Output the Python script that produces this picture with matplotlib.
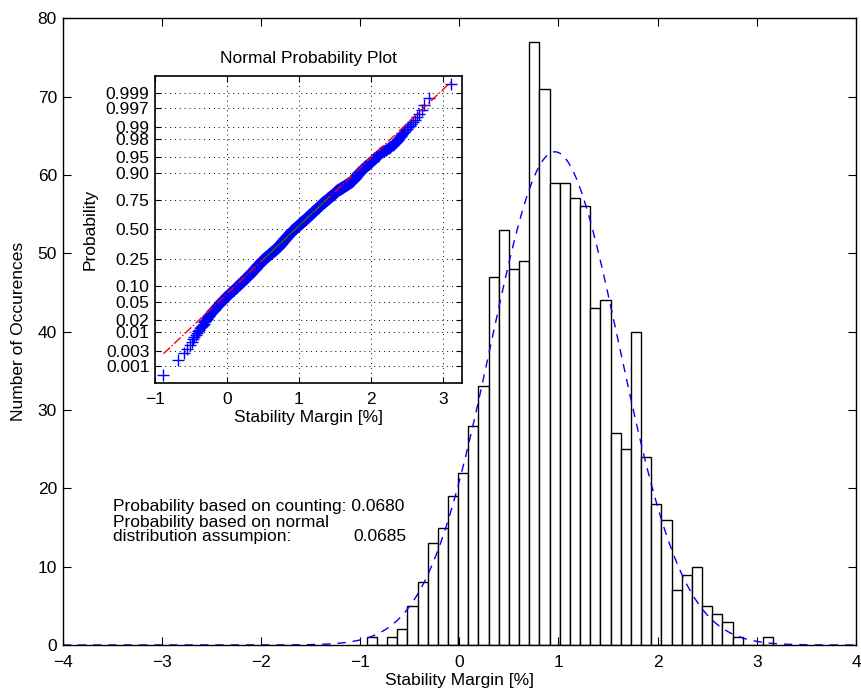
import matplotlib
matplotlib.use("Agg")
import matplotlib.pyplot as plt
import numpy as np
from statistics import NormalDist

plt.rcParams['font.family'] = ['Liberation Sans', 'DejaVu Sans']
plt.rcParams['font.size'] = 12.5

# histogram: 40 bins spanning the sample range
bin_min = -0.933
bin_max = 3.165
counts = [1, 0, 1, 2, 5, 8, 13, 15, 19, 22, 28, 33, 47, 53, 48, 49, 77, 71, 59, 59,
          57, 56, 43, 44, 27, 25, 40, 24, 18, 16, 7, 9, 10, 5, 4, 3, 1, 0, 0, 1]

p_count = 0.0680
p_normal = 0.0685

prob_ticks = [0.001, 0.003, 0.01, 0.02, 0.05, 0.10, 0.25, 0.50, 0.75, 0.90,
              0.95, 0.98, 0.99, 0.997, 0.999]
prob_labels = ['0.001', '0.003', '0.01', '0.02', '0.05', '0.10', '0.25', '0.50',
               '0.75', '0.90', '0.95', '0.98', '0.99', '0.997', '0.999']

nbins = len(counts)
edges = np.linspace(bin_min, bin_max, nbins + 1)
width = edges[1] - edges[0]
centers = edges[:-1] + width / 2

# samples rebuilt from the bins (spread evenly inside each bin)
samples = np.concatenate([edges[i] + width * (np.arange(c) + 0.5) / c
                          for i, c in enumerate(counts) if c > 0])
samples = np.sort(samples)
n = len(samples)
mu = samples.mean()
sigma = samples.std(ddof=1)

nd = NormalDist()

fig = plt.figure(figsize=(8.61, 6.90), dpi=100)
ax = fig.add_axes([0.0726, 0.0652, 0.9216, 0.9083])

ax.bar(centers, counts, width=width, facecolor='white', edgecolor='black', linewidth=1.0)
xs = np.linspace(-4, 4, 400)
pdf = n * width / (sigma * np.sqrt(2 * np.pi)) * np.exp(-0.5 * ((xs - mu) / sigma) ** 2)
ax.plot(xs, pdf, '--', color='blue', linewidth=1.0, dashes=(6, 5))

ax.set_xlim(-4, 4)
ax.set_ylim(0, 80)
ax.set_xticks(range(-4, 5))
ax.set_yticks(range(0, 81, 10))
ax.tick_params(direction='in', top=True, right=True, length=6, width=0.8)
ax.tick_params(axis='x', pad=7)
ax.tick_params(axis='y', pad=4)
ax.set_xlabel('Stability Margin [%]', labelpad=2)
ax.set_ylabel('Number of Occurences', labelpad=8)
for s in ax.spines.values():
    s.set_linewidth(1.0)

ax.text(-3.49, 17.1, 'Probability based on counting: %.4f' % p_count, va='baseline')
ax.text(-3.49, 15.1, 'Probability based on normal', va='baseline')
ax.text(-3.49, 13.3, 'distribution assumpion:', va='baseline')
ax.text(-1.07, 13.3, '%.4f' % p_normal, va='baseline')

# normal probability plot inset
ins = fig.add_axes([0.180, 0.4454, 0.3562, 0.4445])
z = np.array([nd.inv_cdf((i + 0.5) / n) for i in range(n)])
ins.plot(samples, z, '+', color='blue', markersize=9, markeredgewidth=1.0)

q1, q3 = np.percentile(samples, [25, 75])
z1, z3 = nd.inv_cdf(0.25), nd.inv_cdf(0.75)
slope = (z3 - z1) / (q3 - q1)
xl = np.array([samples[0], samples[-1]])
ins.plot(xl, z1 + slope * (xl - q1), '-.', color='red', linewidth=1.0)
ins.plot([q1, q3], [z1, z3], '-', color='green', linewidth=0.8)

ins.set_xlim(-1, 3.26)
ins.set_ylim(-3.47, 3.47)
ins.set_xticks(range(-1, 4))
ins.set_yticks([nd.inv_cdf(p) for p in prob_ticks])
ins.set_yticklabels(prob_labels)
ins.grid(True, linestyle=(0, (1, 4)), color='black', linewidth=0.7)
ins.tick_params(direction='in', top=True, right=True, length=4, width=0.8)
ins.tick_params(axis='x', pad=7)
ins.tick_params(axis='y', pad=4)
ins.set_title('Normal Probability Plot', fontsize=12.5, pad=9)
ins.set_xlabel('Stability Margin [%]', labelpad=2)
ins.set_ylabel('Probability', labelpad=6)
for s in ins.spines.values():
    s.set_linewidth(1.2)

fig.savefig('out.png', dpi=100)
